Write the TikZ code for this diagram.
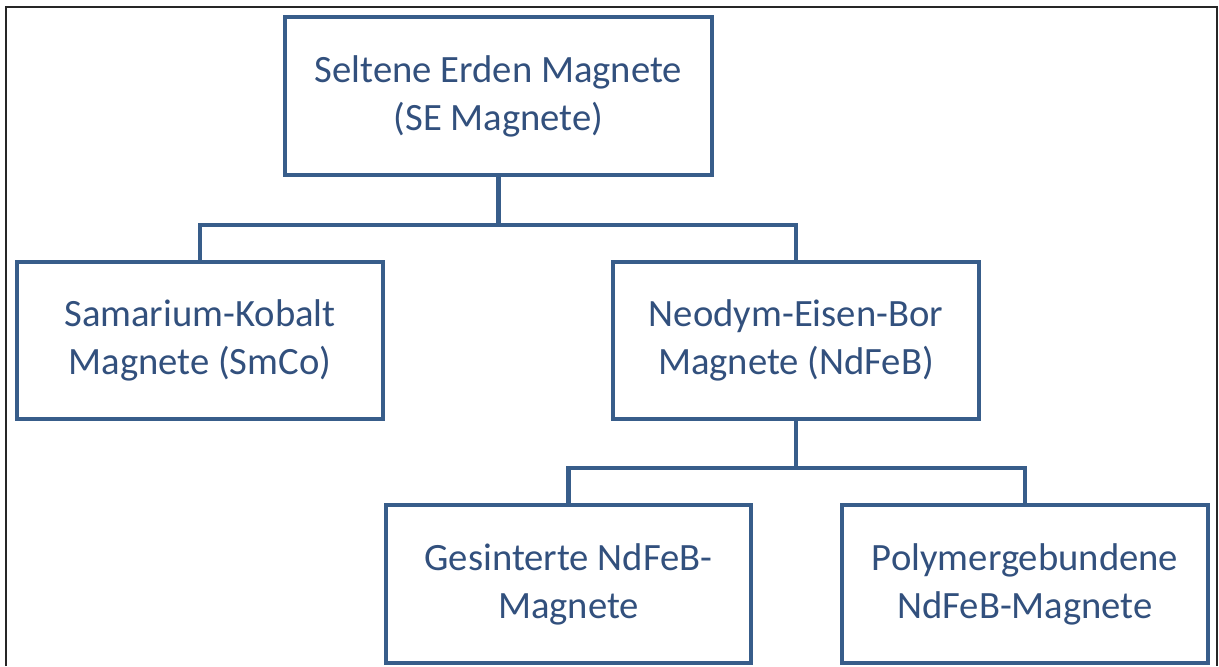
\documentclass[tikz,border=0pt]{standalone}
\usepackage{fontspec}
\setmainfont{Carlito}
\definecolor{boxblue}{RGB}{56,93,138}
\definecolor{textblue}{RGB}{50,80,125}

\begin{document}
\begin{tikzpicture}[
    x=0.02cm,
    y=-0.02cm,
    box/.style={
        draw=boxblue,
        line width=2.3pt,
        minimum width=7.32cm,
        minimum height=3.14cm,
        align=center,
        text=textblue,
        font=\fontsize{22}{27.3}\selectfont
    },
    link/.style={
        draw=boxblue,
        line width=2.3pt
    }
]
\useasboundingbox (0,0) rectangle (1219,666);

% =====================
% Rahmen
% =====================
\draw[line width=1.4pt, black!85] (6,666) -- (6,7) -- (1217,7) -- (1217,666);

% =====================
% Ebene 1
% =====================
\node[box, minimum width=8.54cm, minimum height=3.16cm] (se) at (498.5,96) {Seltene Erden Magnete\\(SE Magnete)};

% =====================
% Ebene 2
% =====================
\node[box] (smco)  at (200,340.5) {Samarium-Kobalt\\Magnete (SmCo)};
\node[box] (ndfeb) at (796,340.5) {Neodym-Eisen-Bor\\Magnete (NdFeB)};

% =====================
% Ebene 3
% =====================
\node[box, minimum height=3.16cm] (gesintert) at (568.5,584) {Gesinterte NdFeB-\\Magnete};
\node[box, minimum height=3.16cm] (polymer)   at (1025,584)  {Polymergebundene\\NdFeB-Magnete};

% =====================
% Verbindungen
% =====================
\draw[link] (se.south) -- ++(0,48) coordinate (se-bus) -| (smco.north);
\draw[link] (se-bus) -| (ndfeb.north);
\draw[link] (ndfeb.south) -- ++(0,47) coordinate (ndfeb-bus) -| (gesintert.north);
\draw[link] (ndfeb-bus) -| (polymer.north);

\end{tikzpicture}
\end{document}
